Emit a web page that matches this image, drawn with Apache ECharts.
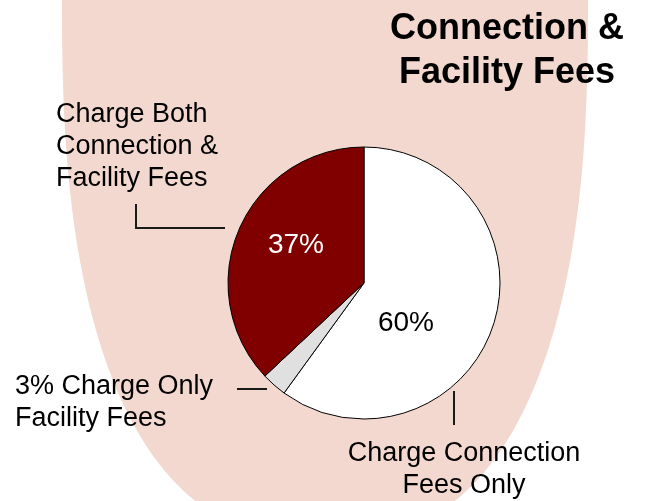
<!DOCTYPE html>
<html>
<head>
<meta charset="utf-8">
<script src="https://cdn.jsdelivr.net/npm/echarts@6/dist/echarts.min.js"></script>
<style>
html,body{margin:0;padding:0;background:#ffffff;}
#chart{width:649px;height:501px;}
</style>
</head>
<body>
<div id="chart"></div>
<script>
// ---- data ----
const categories = ['Charge Connection\nFees Only', 'Charge Only\nFacility Fees', 'Charge Both\nConnection &\nFacility Fees'];
const values = [60, 3, 37];
const sliceColors = ['#ffffff', '#e0e0e0', '#800000'];
const insideLabelColors = ['#000000', '#000000', '#ffffff'];
const titleText = 'Connection &\nFacility Fees';

// ---- layout (styling only) ----
const FONT = '"Liberation Sans", Arial, sans-serif';
const pieCenter = [364, 283];
const pieRadius = 136;

// decorative background shape (superellipse-like band)
function backdropPoints() {
  const cx = 325, a = 263, b = 540, n = 2.5;
  const left = [], right = [];
  left.push([cx - a, -10]);
  right.push([cx + a, -10]);
  for (let i = 0; i <= 120; i++) {
    const y = (b * i) / 120;
    const d = a * Math.pow(Math.max(0, 1 - Math.pow(y / b, n)), 1 / n);
    left.push([cx - d, y]);
    right.push([cx + d, y]);
  }
  return left.concat(right.reverse());
}

// positions of the hand-placed labels (style)
const insideLabelPos = [[406, 323], null, [296, 245]];
const outsideLabelLayout = [
  { x: 464, y: 438, align: 'center', line: [[454, 391], [454, 408], [454, 425]] },
  { x: 15, y: 371, align: 'left', line: [[237, 389], [252, 389], [267, 389]] },
  { x: 56, y: 99, align: 'left', line: [[136, 204], [136, 228], [225, 228]] }
];

const data = categories.map((name, i) => ({
  name: name,
  value: values[i],
  itemStyle: { color: sliceColors[i] },
  label: { color: insideLabelColors[i] }
}));

const chart = echarts.init(document.getElementById('chart'), null, { renderer: 'canvas' });
chart.setOption({
  backgroundColor: '#ffffff',
  animation: false,
  graphic: [{
    type: 'polygon',
    z: -10,
    silent: true,
    shape: { points: backdropPoints() },
    style: { fill: '#f2d8ce' }
  }],
  title: {
    text: titleText,
    left: 502,
    top: 2,
    textAlign: 'center',
    textStyle: {
      fontFamily: FONT, fontSize: 36, fontWeight: 'bold', color: '#000', lineHeight: 44
    }
  },
  series: [
    {
      type: 'pie',
      center: pieCenter,
      radius: pieRadius,
      startAngle: 90,
      clockwise: true,
      avoidLabelOverlap: false,
      silent: true,
      data: data,
      itemStyle: { borderColor: '#000000', borderWidth: 1 },
      label: {
        show: true,
        position: 'inside',
        fontFamily: FONT,
        fontSize: 28,
        formatter: (p) => (p.dataIndex === 1 ? '' : p.value + '%')
      },
      labelLayout: (p) => {
        const pos = insideLabelPos[p.dataIndex];
        if (!pos) return {};
        return { x: pos[0], y: pos[1], align: 'center', verticalAlign: 'middle' };
      },
      emphasis: { disabled: true }
    },
    {
      type: 'pie',
      center: pieCenter,
      radius: pieRadius,
      startAngle: 90,
      clockwise: true,
      avoidLabelOverlap: false,
      silent: true,
      data: categories.map((name, i) => ({ name: name, value: values[i] })),
      itemStyle: { color: 'rgba(0,0,0,0)', borderWidth: 0 },
      label: {
        show: true,
        position: 'outside',
        fontFamily: FONT,
        fontSize: 27,
        lineHeight: 32,
        color: '#000',
        formatter: (p) => (p.dataIndex === 1 ? p.value + '% ' + p.name : p.name)
      },
      labelLine: {
        show: true,
        length: 10,
        length2: 10,
        smooth: false,
        lineStyle: { color: '#1a1a1a', width: 2 }
      },
      labelLayout: (p) => {
        const L = outsideLabelLayout[p.dataIndex];
        return { x: L.x, y: L.y, align: L.align, verticalAlign: 'top', labelLinePoints: L.line };
      },
      emphasis: { disabled: true }
    }
  ]
});
</script>
</body>
</html>
